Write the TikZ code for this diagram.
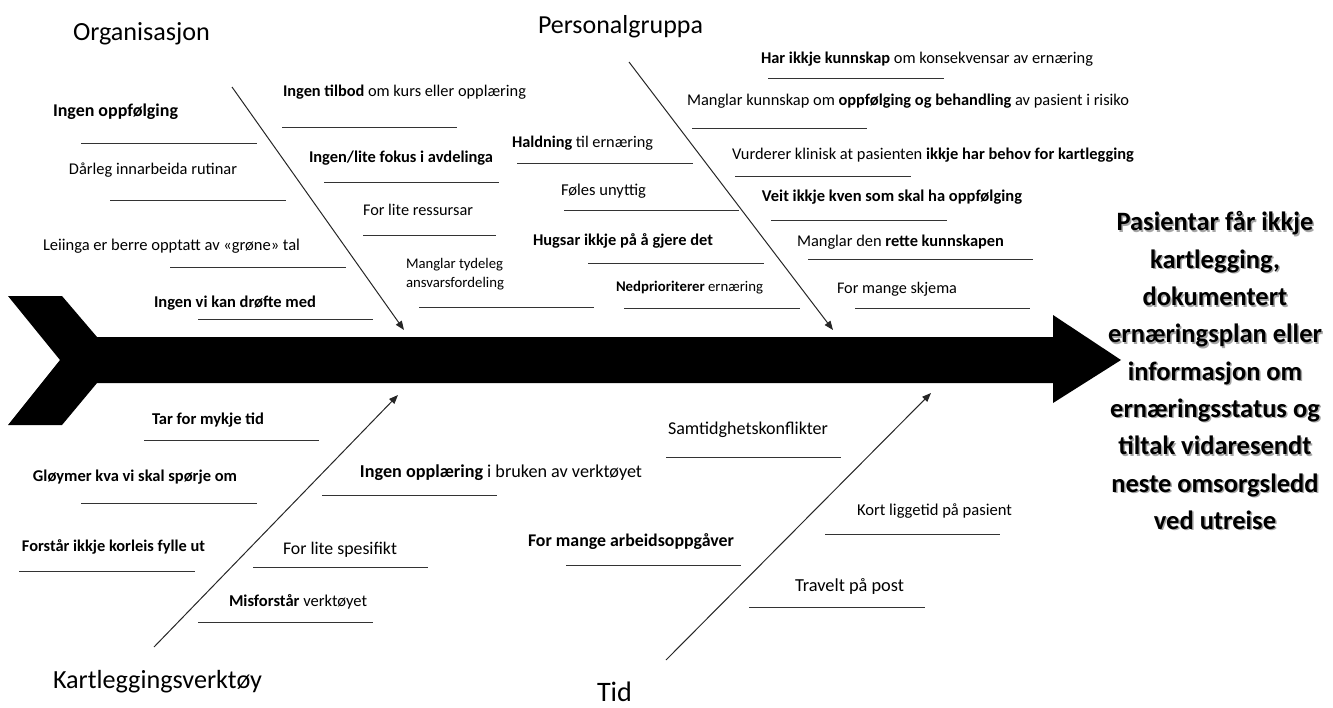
\documentclass[tikz,border=0pt]{standalone}
\usepackage{fontspec}
\setmainfont{Carlito}
\usepackage{graphicx}
\usetikzlibrary{arrows.meta}
\newcommand\fitw[2]{\resizebox{#1pt}{!}{#2}}
\tikzset{
  lbl/.style={inner sep=0pt, anchor=base, font=\fontsize{16}{19}\selectfont},
  ttl/.style={inner sep=0pt, anchor=base, font=\fontsize{24}{28}\selectfont},
  effect/.style={inner sep=0pt, anchor=north, align=center, font=\fontsize{26.5}{37.3}\selectfont\bfseries},
  uline/.style={line width=1pt, draw=black!80},
  bone/.style={line width=1pt, draw=black!85, -{Triangle[length=9pt,width=7pt]}},
}
\begin{document}
\begin{tikzpicture}[x=1pt,y=-1pt]
\useasboundingbox (0,0) rectangle (1333,707);

% main spine (fish)
\fill[black] (8,296) -- (62,296) -- (97,337) -- (1053,337) -- (1053,315) -- (1121,360)
  -- (1053,403) -- (1053,383) -- (97,383) -- (62,425) -- (8,425) -- (60,360) -- cycle;

% bones
\coordinate (orgS) at (232,87);   \coordinate (orgE) at (404,330);
\coordinate (perS) at (629,62);   \coordinate (perE) at (833,330);
\coordinate (karS) at (154,647);  \coordinate (karE) at (398,395);
\coordinate (tidS) at (666,660);  \coordinate (tidE) at (931,393);
\draw[bone] (orgS) -- (orgE);
\draw[bone] (perS) -- (perE);
\draw[bone] (karS) -- (karE);
\draw[bone] (tidS) -- (tidE);

% titles
\node[ttl] (organisasjon) at (141.5,40) {\fitw{137}{Organisasjon}};
\node[ttl] (personal) at (620.5,33) {\fitw{165}{Personalgruppa}};
\node[ttl] (kartverk) at (157.5,688) {\fitw{209}{Kartleggingsverktøy}};
\node[ttl] (tid) at (614.5,701.5) {\fitw{35}{Tid}};

% effect text
\node[effect, text=black!35] (effshadow) at (1216.5,213) {Pasientar får ikkje\\kartlegging,\\dokumentert\\ernæringsplan eller\\informasjon om\\ernæringsstatus og\\tiltak vidaresendt\\neste omsorgsledd\\ved utreise};
\node[effect] (effect) at (1215,211.5) {Pasientar får ikkje\\kartlegging,\\dokumentert\\ernæringsplan eller\\informasjon om\\ernæringsstatus og\\tiltak vidaresendt\\neste omsorgsledd\\ved utreise};

% Organisasjon causes
\node[lbl] (t1) at (115.5,116.5) {\fitw{125}{\textbf{Ingen oppfølging}}};
\node[lbl] (t2) at (153,174.5) {\fitw{168}{Dårleg innarbeida rutinar}};
\node[lbl] (t3) at (171.5,250.5) {\fitw{257}{Leiinga er berre opptatt av «grøne» tal}};
\node[lbl] (t4) at (235,307.5) {\fitw{162}{\textbf{Ingen vi kan drøfte med}}};
\node[lbl] (t5) at (404.5,96.5) {\fitw{243}{\textbf{Ingen tilbod} om kurs eller opplæring}};
\node[lbl] (t6) at (401,162.5) {\fitw{184}{\textbf{Ingen/lite fokus i avdelinga}}};
\node[lbl] (t7) at (418,215.5) {\fitw{110}{For lite ressursar}};
\node[lbl] (t8a) at (454.5,268) {\fitw{97}{Manglar tydeleg}};
\node[lbl] (t8b) at (455,287) {\fitw{98}{ansvarsfordeling}};
\draw[uline] (81,143) -- (257,143);
\draw[uline] (110,200) -- (286,200);
\draw[uline] (170,267) -- (346,267);
\draw[uline] (198,319) -- (373,319);
\draw[uline] (282,127) -- (457,127);
\draw[uline] (324,182) -- (499,182);
\draw[uline] (363,235) -- (496,235);
\draw[uline] (419,307) -- (594,307);

% Personalgruppa causes
\node[lbl] (t9) at (582.5,147.5) {\fitw{141}{\textbf{Haldning} til ernæring}};
\node[lbl] (t10) at (603.5,195.5) {\fitw{85}{Føles unyttig}};
\node[lbl] (t11) at (623,245.5) {\fitw{180}{\textbf{Hugsar ikkje på å gjere det}}};
\node[lbl] (t12) at (689.5,291.5) {\fitw{147}{\textbf{Nedprioriterer} ernæring}};
\node[lbl] (t13) at (927,63.5) {\fitw{332}{\textbf{Har ikkje kunnskap} om konsekvensar av ernæring}};
\node[lbl] (t14) at (908,105.5) {\fitw{442}{Manglar kunnskap om \textbf{oppfølging og behandling} av pasient i risiko}};
\node[lbl] (t15) at (933,159.5) {\fitw{402}{Vurderer klinisk at pasienten \textbf{ikkje har behov for kartlegging}}};
\node[lbl] (t16) at (892,201.5) {\fitw{260}{\textbf{Veit ikkje kven som skal ha oppfølging}}};
\node[lbl] (t17) at (900.5,246.5) {\fitw{207}{Manglar den \textbf{rette kunnskapen}}};
\node[lbl] (t18) at (897,293.5) {\fitw{120}{For mange skjema}};
\draw[uline] (517,163) -- (693,163);
\draw[uline] (564,210) -- (739,210);
\draw[uline] (588,263) -- (764,263);
\draw[uline] (624,308) -- (800,308);
\draw[uline] (768,78) -- (944,78);
\draw[uline] (692,128) -- (867,128);
\draw[uline] (735,176) -- (911,176);
\draw[uline] (771,220) -- (947,220);
\draw[uline] (808,259) -- (1033,259);
\draw[uline] (855,308) -- (1030,308);

% Kartleggingsverktøy causes
\node[lbl] (b1) at (208,424.5) {\fitw{112}{\textbf{Tar for mykje tid}}};
\node[lbl] (b2) at (135,481.5) {\fitw{204}{\textbf{Gløymer kva vi skal spørje om}}};
\node[lbl] (b3) at (113.5,551.5) {\fitw{183}{\textbf{Forstår ikkje korleis fylle ut}}};
\node[lbl] (b4) at (340,554.5) {\fitw{114}{For lite spesifikt}};
\node[lbl] (b5) at (298,606.5) {\fitw{138}{\textbf{Misforstår} verktøyet}};
\node[lbl] (b6) at (501,477.5) {\fitw{282}{\textbf{Ingen opplæring} i bruken av verktøyet}};
\draw[uline] (144,440) -- (319,440);
\draw[uline] (81,503) -- (257,503);
\draw[uline] (19,571) -- (195,571);
\draw[uline] (253,567) -- (428,567);
\draw[uline] (198,622) -- (373,622);
\draw[uline] (322,495) -- (497,495);

% Tid causes
\node[lbl] (b7) at (748,434.5) {\fitw{160}{Samtidghetskonflikter}};
\node[lbl] (b8) at (631,546.5) {\fitw{206}{\textbf{For mange arbeidsoppgåver}}};
\node[lbl] (b9) at (934.5,515.5) {\fitw{155}{Kort liggetid på pasient}};
\node[lbl] (b10) at (849.5,591.5) {\fitw{109}{Travelt på post}};
\draw[uline] (666,457) -- (841,457);
\draw[uline] (566,565) -- (741,565);
\draw[uline] (825,534) -- (1000,534);
\draw[uline] (749,607) -- (925,607);
\end{tikzpicture}
\end{document}
